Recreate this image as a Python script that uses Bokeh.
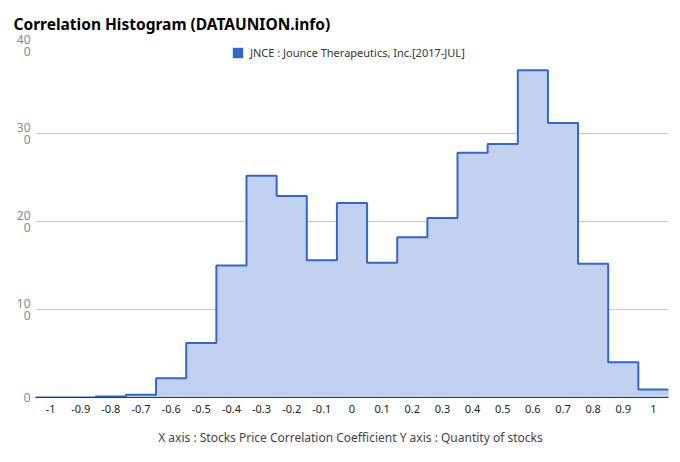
from bokeh.plotting import figure
from bokeh.models import FixedTicker, Range1d, Legend, LegendItem, ColumnDataSource
from bokeh.embed import file_html
from bokeh.resources import INLINE

# Data
bin_centers = [-1.0, -0.9, -0.8, -0.7, -0.6, -0.5, -0.4, -0.3, -0.2, -0.1, 0.0,
               0.1, 0.2, 0.3, 0.4, 0.5, 0.6, 0.7, 0.8, 0.9, 1.0]
counts = [0, 0, 1, 3, 22, 62, 150, 252, 229, 156, 221,
          153, 182, 204, 278, 288, 372, 312, 152, 40, 9]
bin_width = 0.1
x_tick_values = [-1.0, -0.9, -0.8, -0.7, -0.6, -0.5, -0.4, -0.3, -0.2, -0.1, 0.0,
                 0.1, 0.2, 0.3, 0.4, 0.5, 0.6, 0.7, 0.8, 0.9, 1.0]
x_tick_labels = ["-1", "-0.9", "-0.8", "-0.7", "-0.6", "-0.5", "-0.4", "-0.3", "-0.2", "-0.1", "0",
                 "0.1", "0.2", "0.3", "0.4", "0.5", "0.6", "0.7", "0.8", "0.9", "1"]
y_tick_values = [0, 100, 200, 300, 400]
y_tick_labels = ["0", "10\n0", "20\n0", "30\n0", "40\n0"]
series_name = "JNCE : Jounce Therapeutics, Inc.[2017-JUL]"

LINE = "#3366cc"
FILL = "#c2d1f0"
FONT = "Noto Sans"

edges = [c - bin_width / 2 for c in bin_centers] + [bin_centers[-1] + bin_width / 2]
ys = counts + [counts[-1]]
src = ColumnDataSource(dict(x=edges, y=ys))
bins_src = ColumnDataSource(dict(left=edges[:-1], right=edges[1:], top=counts,
                                 bottom=[0] * len(counts)))

p = figure(width=676, height=458, output_backend="svg", toolbar_location=None,
           x_range=Range1d(edges[0], edges[-1]), y_range=Range1d(0, 400),
           min_border_left=35, min_border_right=8, min_border_top=44, min_border_bottom=61)
p.outline_line_color = None

# legend swatch renderer (hidden beneath the area fill)
lr = p.quad(left="left", right="right", top="top", bottom="bottom", source=bins_src,
            fill_color=LINE, line_color=None)
p.varea_step(x="x", y1=0, y2="y", step_mode="after", source=src, fill_color=FILL, fill_alpha=1.0)
p.step(x="x", y="y", mode="after", source=src, line_color=LINE, line_width=2)

legend = Legend(items=[LegendItem(label=series_name, renderers=[lr])], location=(196, 337),
                orientation="horizontal", border_line_color=None, background_fill_alpha=0,
                label_text_font=FONT, label_text_font_size="11px", label_text_color="#333333",
                glyph_width=13, glyph_height=13, padding=0, margin=0, label_standoff=6,
                label_height=12)
p.add_layout(legend, "center")

# Title
p.title.text = "Correlation Histogram (DATAUNION.info)"
p.title.text_font = FONT
p.title.text_font_size = "15.5px"
p.title.text_font_style = "bold"
p.title.text_color = "#000000"
p.title.offset = -22
p.title.standoff = 21

# X axis
xa = p.xaxis[0]
xa.ticker = FixedTicker(ticks=x_tick_values)
xa.major_label_overrides = {v: l for v, l in zip(x_tick_values, x_tick_labels)}
xa.major_tick_line_color = None
xa.minor_tick_line_color = None
xa.axis_line_color = "#333333"
xa.axis_line_width = 1
xa.major_label_text_font = FONT
xa.major_label_text_font_size = "11px"
xa.major_label_text_color = "#222222"
xa.major_label_standoff = 1
xa.axis_label = "X axis : Stocks Price Correlation Coefficient  Y axis : Quantity of stocks"
xa.axis_label_text_font = FONT
xa.axis_label_text_font_size = "12px"
xa.axis_label_text_font_style = "normal"
xa.axis_label_text_color = "#444444"
xa.axis_label_standoff = 13

# Y axis
ya = p.yaxis[0]
ya.ticker = FixedTicker(ticks=y_tick_values)
ya.major_label_overrides = {v: l for v, l in zip(y_tick_values, y_tick_labels)}
ya.major_tick_line_color = None
ya.minor_tick_line_color = None
ya.major_tick_out = 0
ya.major_tick_in = 0
ya.axis_line_color = None
ya.major_label_text_font = FONT
ya.major_label_text_font_size = "12px"
ya.major_label_text_color = "#888888"
ya.major_label_text_line_height = 0.75
ya.major_label_standoff = 5

p.xgrid.grid_line_color = None
p.ygrid.grid_line_color = "#cccccc"
p.ygrid.ticker = FixedTicker(ticks=y_tick_values[1:])

open("out.html", "w").write(file_html(p, INLINE))
